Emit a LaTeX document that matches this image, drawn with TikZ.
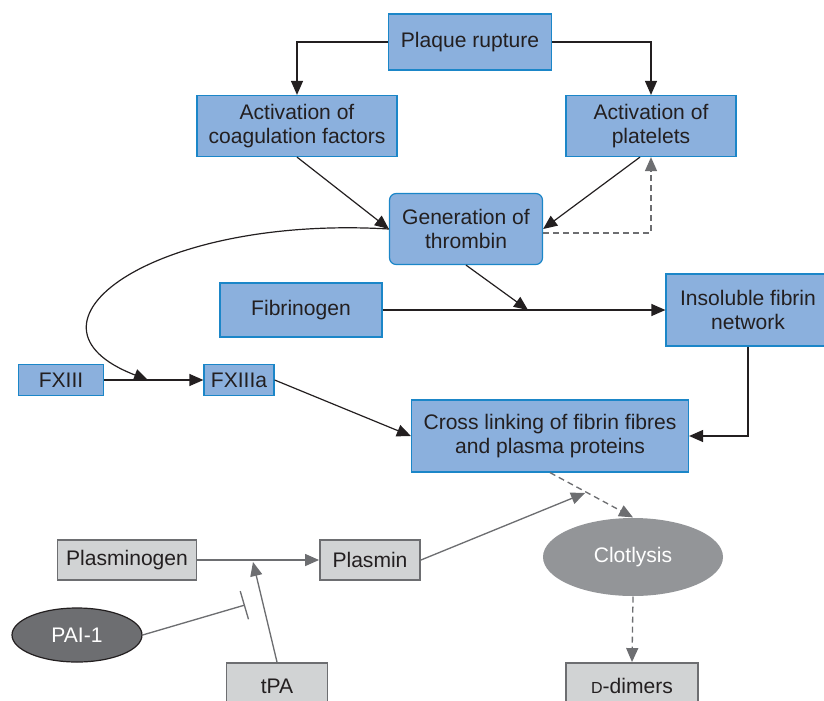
\documentclass[tikz,border=0pt]{standalone}
\usepackage{fontspec}
\setmainfont{Liberation Sans}
\usetikzlibrary{arrows.meta,shapes.geometric}
\definecolor{boxblue}{HTML}{8BB0DD}
\definecolor{boxedge}{HTML}{1B86C8}
\definecolor{ink}{HTML}{231F20}
\definecolor{greyfill}{HTML}{D1D3D4}
\definecolor{greyedge}{HTML}{6D6E71}
\definecolor{lysisfill}{HTML}{939598}

\begin{document}
\begin{tikzpicture}[x=0.75pt,y=-0.75pt,>={Triangle[length=10.5pt,width=9pt]},line width=0.9pt]
 \newcommand{\pu}{0.75pt}
 \tikzstyle{bluebox} = [draw=boxedge,fill=boxblue,text=ink,align=center,inner sep=0,font=\fontsize{15.8}{18}\selectfont]
 \tikzstyle{greybox} = [draw=greyedge,line width=1.4pt,fill=greyfill,text=ink,align=center,inner sep=0,font=\fontsize{15.8}{18}\selectfont]
 \tikzstyle{lysis} = [ellipse,fill=lysisfill,text=white,inner sep=0,font=\fontsize{15.8}{18}\selectfont]
 \tikzstyle{inhib} = [ellipse,draw=ink,fill=greyedge,text=white,inner sep=0,font=\fontsize{15.8}{18}\selectfont]
 \tikzstyle{greyline} = [greyedge,line width=1pt]
 \tikzstyle{dashline} = [dash pattern=on 4.5pt off 3pt]
 \useasboundingbox (0,0) rectangle (824,700);

% Coagulation
 \node[bluebox,minimum width=163*\pu,minimum height=56*\pu] (plaque) at (470,42) {Plaque rupture};
 \node[bluebox,minimum width=200*\pu,minimum height=61*\pu] (coag) at (297,126) {Activation of\\coagulation factors};
 \node[bluebox,minimum width=170*\pu,minimum height=61*\pu] (plat) at (651,126) {Activation of\\platelets};
 \node[bluebox,rounded corners=5pt,minimum width=153*\pu,minimum height=71*\pu] (thrombin) at (466,229) {Generation of\\thrombin};
 \node[bluebox,minimum width=162*\pu,minimum height=54*\pu] (fibrinogen) at (301,310) {Fibrinogen};
 \node[bluebox,minimum width=164*\pu,minimum height=72*\pu] (fibrin) at (748,310) {Insoluble fibrin\\network};
 \node[bluebox,minimum width=85*\pu,minimum height=31*\pu] (fxiii) at (61,380) {FXIII};
 \node[bluebox,minimum width=70*\pu,minimum height=31*\pu] (fxiiia) at (239,380) {FXIIIa};
 \node[bluebox,minimum width=277*\pu,minimum height=72*\pu] (cross) at (550,436) {Cross linking of fibrin fibres\\and plasma proteins};

% Fibrinolysis
 \node[greybox,minimum width=139*\pu,minimum height=40*\pu] (plgn) at (127,560) {Plasminogen};
 \node[greybox,minimum width=100*\pu,minimum height=40*\pu] (plasmin) at (370,560) {Plasmin};
 \node[lysis,minimum width=180*\pu,minimum height=78*\pu] (lysis) at (633,557) {Clotlysis};
 \node[inhib,minimum width=130*\pu,minimum height=54*\pu] (pai) at (77,635) {PAI-1};
 \node[greybox,minimum width=101*\pu,minimum height=46*\pu] (tpa) at (277,686) {tPA};
 \node[greybox,minimum width=132*\pu,minimum height=46*\pu] (ddimer) at (632,686) {{\fontsize{12}{14}\selectfont D}-dimers};

 \coordinate (join) at (528,310);
 \coordinate (bend) at (148,380);
 \coordinate (meet) at (585,493);
 \coordinate (act) at (253,562);
 \coordinate (block) at (245,605);

 \draw[->,ink] (plaque.west) -| (coag);
 \draw[->,ink] (plaque.east) -| (plat);
 \draw[->,ink] (coag.south) -- (thrombin.west);
 \draw[->,ink] ([xshift=-11*\pu]plat.south) -- (thrombin.east);
 \draw[->,greyline,dashline] ([yshift=-4*\pu]thrombin.east) -| (plat.south);
 \draw[->,ink] (thrombin.south) -- (join);
 \draw[->,ink] (fibrinogen.east) -- (fibrin.west);
 \draw[->,ink] (fibrin.south) |- (cross.east);
 \draw[->,ink] (thrombin.west) .. controls (150,215) and (5,325) .. (bend);
 \draw[->,ink] (fxiii) -- (fxiiia);
 \draw[->,ink] (fxiiia.east) -- (cross.west);

 \draw[->,greyline,dashline] (cross.south) -- (lysis.north);
 \draw[->,greyline] (plasmin.east) -- (meet);
 \draw[->,greyline] (plgn) -- (plasmin);
 \draw[->,greyline] (tpa.north) -- (act);
 \draw[-{Bar[width=22pt]},greyline] (pai.east) -- (block);
 \draw[->,greyline,dashline] (lysis.south) -- (ddimer.north);
\end{tikzpicture}
\end{document}
